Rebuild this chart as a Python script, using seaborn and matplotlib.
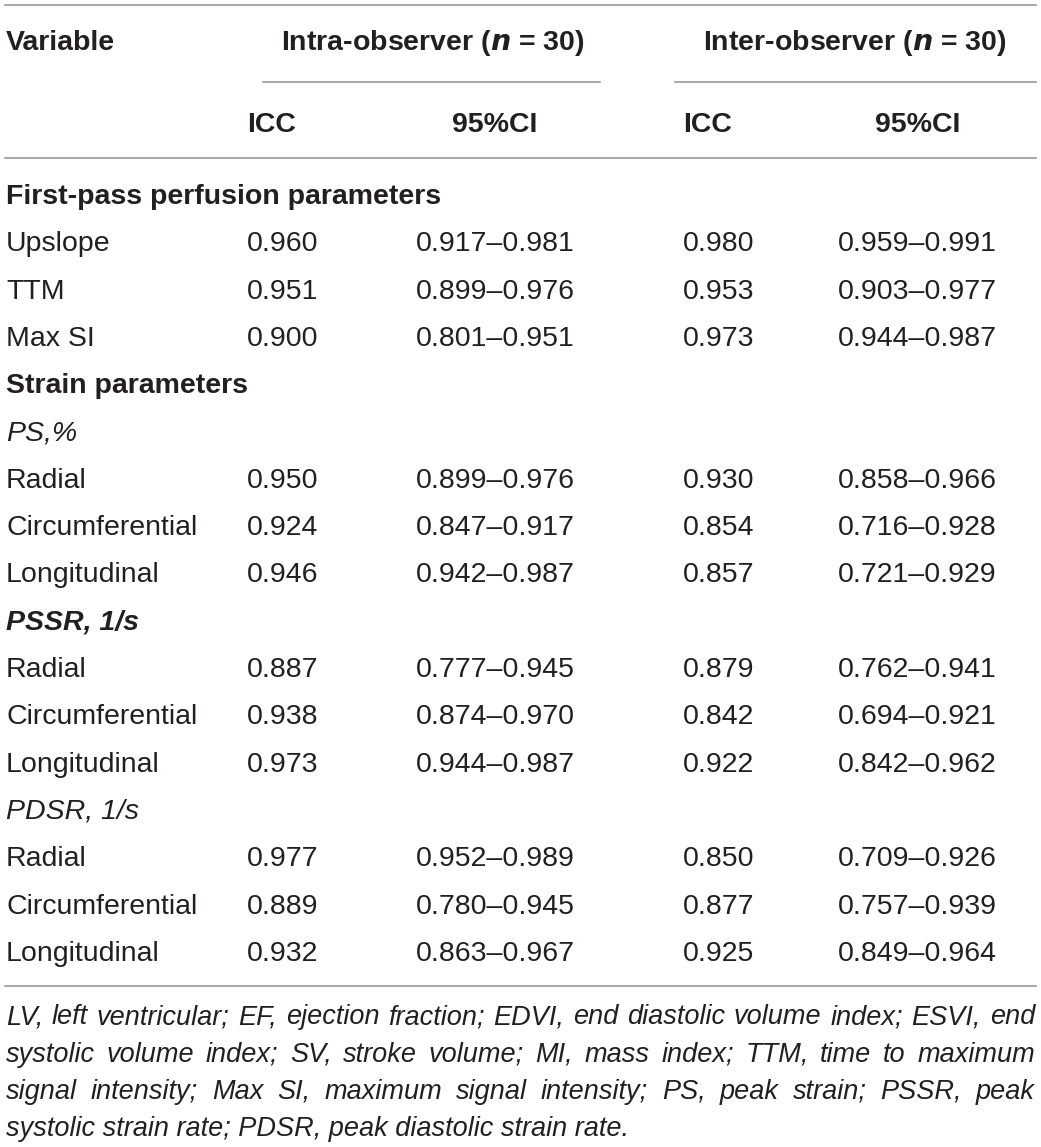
import matplotlib
matplotlib.use("Agg")
import matplotlib.pyplot as plt
import seaborn as sns

sns.set_theme(style="white")
plt.rcParams['font.family'] = ['Liberation Sans', 'DejaVu Sans']

# ---- data ----
row_labels = ["First-pass perfusion parameters", "Upslope", "TTM", "Max SI",
              "Strain parameters", "PS,%", "Radial", "Circumferential", "Longitudinal",
              "PSSR, 1/s", "Radial", "Circumferential", "Longitudinal",
              "PDSR, 1/s", "Radial", "Circumferential", "Longitudinal"]
row_styles = ["bold", "normal", "normal", "normal",
              "bold", "italic", "normal", "normal", "normal",
              "bolditalic", "normal", "normal", "normal",
              "italic", "normal", "normal", "normal"]
intra_icc = ["", "0.960", "0.951", "0.900", "", "", "0.950", "0.924", "0.946",
             "", "0.887", "0.938", "0.973", "", "0.977", "0.889", "0.932"]
intra_ci = ["", "0.917–0.981", "0.899–0.976", "0.801–0.951", "", "", "0.899–0.976",
            "0.847–0.917", "0.942–0.987", "", "0.777–0.945", "0.874–0.970",
            "0.944–0.987", "", "0.952–0.989", "0.780–0.945", "0.863–0.967"]
inter_icc = ["", "0.980", "0.953", "0.973", "", "", "0.930", "0.854", "0.857",
             "", "0.879", "0.842", "0.922", "", "0.850", "0.877", "0.925"]
inter_ci = ["", "0.959–0.991", "0.903–0.977", "0.944–0.987", "", "", "0.858–0.966",
            "0.716–0.928", "0.721–0.929", "", "0.762–0.941", "0.694–0.921",
            "0.842–0.962", "", "0.709–0.926", "0.757–0.939", "0.849–0.964"]
group_headers = ["Intra-observer ($\\mathbfit{n}$ = 30)", "Inter-observer ($\\mathbfit{n}$ = 30)"]
sub_headers = ["ICC", "95%CI", "ICC", "95%CI"]
footnote_lines = [
    "LV, left ventricular; EF, ejection fraction; EDVI, end diastolic volume index; ESVI, end",
    "systolic volume index; SV, stroke volume; MI, mass index; TTM, time to maximum",
    "signal intensity; Max SI, maximum signal intensity; PS, peak strain; PSSR, peak",
    "systolic strain rate; PDSR, peak diastolic strain rate.",
]

W, H = 1041, 1147
fig = plt.figure(figsize=(W / 100, H / 100), dpi=100)
ax = fig.add_axes([0, 0, 1, 1])
ax.set_xlim(0, W)
ax.set_ylim(H, 0)
ax.axis("off")

TXT = "#231f20"
LINE = "#a7a9ac"
FS = 20.5

def style_kw(s):
    if s == "bold":
        return dict(fontweight="bold", fontstyle="normal")
    if s == "italic":
        return dict(fontweight="normal", fontstyle="italic")
    if s == "bolditalic":
        return dict(fontweight="bold", fontstyle="italic")
    return dict(fontweight="normal", fontstyle="normal")

# rules
ax.plot([5, 1036], [5, 5], color=LINE, lw=1.5)
ax.plot([263, 600], [82, 82], color=LINE, lw=1.5)
ax.plot([675, 1036], [82, 82], color=LINE, lw=1.5)
ax.plot([5, 1036], [158, 158], color=LINE, lw=1.5)
ax.plot([5, 1036], [986, 986], color=LINE, lw=1.5)

# headers
hy1, hy2 = 43, 125
ax.text(6, hy1, "Variable", fontsize=FS, fontweight="bold", color=TXT, va="center", ha="left")
ax.text(433, hy1, group_headers[0], fontsize=FS, fontweight="bold", color=TXT, va="center", ha="center")
ax.text(855, hy1, group_headers[1], fontsize=FS, fontweight="bold", color=TXT, va="center", ha="center")
ax.text(247, hy2, sub_headers[0], fontsize=FS, fontweight="bold", color=TXT, va="center", ha="left")
ax.text(495, hy2, sub_headers[1], fontsize=FS, fontweight="bold", color=TXT, va="center", ha="center")
ax.text(683, hy2, sub_headers[2], fontsize=FS, fontweight="bold", color=TXT, va="center", ha="left")
ax.text(918, hy2, sub_headers[3], fontsize=FS, fontweight="bold", color=TXT, va="center", ha="center")

# body
y0, dy = 197, 47.3
for i, lab in enumerate(row_labels):
    y = y0 + i * dy
    ax.text(6, y, lab, fontsize=FS, color=TXT, va="center", ha="left", **style_kw(row_styles[i]))
    ax.text(247, y, intra_icc[i], fontsize=FS, color=TXT, va="center", ha="left")
    ax.text(495, y, intra_ci[i], fontsize=FS, color=TXT, va="center", ha="center")
    ax.text(683, y, inter_icc[i], fontsize=FS, color=TXT, va="center", ha="left")
    ax.text(917, y, inter_ci[i], fontsize=FS, color=TXT, va="center", ha="center")

# footnote, justified
fig.canvas.draw()
renderer = fig.canvas.get_renderer()
FFS = 19.5
left, right = 6, 1035
fy0, fdy = 1017, 37.5
for li, line in enumerate(footnote_lines):
    y = fy0 + li * fdy
    words = line.split(" ")
    last = li == len(footnote_lines) - 1
    if last:
        ax.text(left, y, line, fontsize=FFS, fontstyle="italic", color=TXT, va="center", ha="left")
        continue
    widths = []
    for w in words:
        t = ax.text(0, 0, w, fontsize=FFS, fontstyle="italic")
        bb = t.get_window_extent(renderer=renderer)
        widths.append(bb.width)
        t.remove()
    gap = (right - left - sum(widths)) / (len(words) - 1)
    x = left
    for w, wd in zip(words, widths):
        ax.text(x, y, w, fontsize=FFS, fontstyle="italic", color=TXT, va="center", ha="left")
        x += wd + gap

fig.savefig("out.png", dpi=100)
